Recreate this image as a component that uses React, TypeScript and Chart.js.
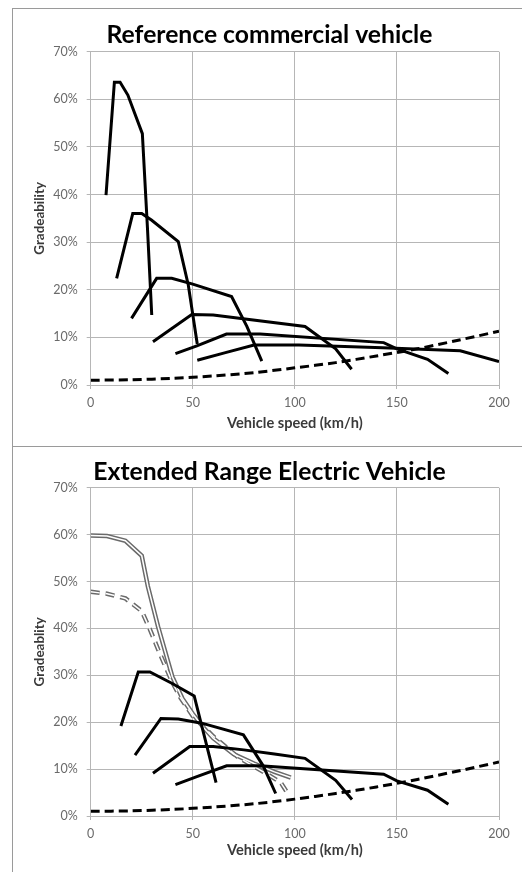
import React, { useEffect, useRef } from "react";
import { Chart, registerables } from "chart.js";

Chart.register(...registerables);

const FONT = "Lato, 'Open Sans', sans-serif";

// ---------- Axis ticks ----------
const xTickValues = [0, 50, 100, 150, 200];
const yTickValues = [0, 10, 20, 30, 40, 50, 60, 70];

// ---------- Road load (both charts) ----------
const roadSpeed = [0, 20, 40, 60, 80, 100, 120, 140, 160, 180, 200];
const refRoadGrade = [1.0, 1.1, 1.4, 1.9, 2.6, 3.6, 4.7, 6.1, 7.6, 9.4, 11.3];
const erevRoadGrade = [1.0, 1.1, 1.4, 1.9, 2.6, 3.6, 4.8, 6.2, 7.8, 9.6, 11.5];

// ---------- Reference commercial vehicle: gears ----------
const refG1Speed = [7.5, 11.6, 14.4, 18.2, 25.3, 27.8, 29.9];
const refG1Grade = [39.9, 63.6, 63.6, 60.9, 52.8, 33.0, 14.7];
const refG2Speed = [12.7, 20.6, 25.0, 29.9, 42.9, 47.8, 52.2];
const refG2Grade = [22.4, 36.0, 36.0, 34.6, 30.1, 21.0, 8.6];
const refG3Speed = [20.0, 32.3, 39.7, 50.0, 69.0, 76.5, 83.8];
const refG3Grade = [14.0, 22.4, 22.4, 21.2, 18.6, 12.3, 5.0];
const refG4Speed = [30.5, 49.5, 60.0, 105.0, 120.0, 127.8];
const refG4Grade = [9.1, 14.8, 14.7, 12.3, 7.6, 3.3];
const refG5Speed = [41.5, 52.0, 66.5, 83.0, 143.5, 150.0, 165.0, 175.2];
const refG5Grade = [6.6, 8.2, 10.7, 10.7, 8.9, 7.6, 5.4, 2.4];
const refG6Speed = [52.2, 66.0, 80.0, 102.0, 143.0, 181.0, 200.0];
const refG6Grade = [5.2, 6.8, 8.4, 8.4, 7.8, 7.2, 4.9];

// ---------- Extended Range Electric Vehicle ----------
const evMaxSpeed = [0, 8, 17, 25, 28, 33, 40, 45, 50, 55, 60, 70, 80, 90, 98];
const evMaxGrade = [59.8, 59.7, 58.7, 55.5, 49.0, 40.4, 29.7, 25.0, 21.8, 19.0, 16.6, 13.2, 11.2, 9.4, 8.2];
const evContSpeed = [0, 8, 17, 25, 29, 34, 40, 44, 50, 60, 72, 85, 93, 97];
const evContGrade = [47.8, 47.4, 46.4, 43.7, 39.8, 34.5, 28.5, 25.2, 21.3, 17.0, 12.6, 9.3, 7.2, 4.5];
const erevG1Speed = [14.8, 23.3, 29.0, 39.7, 50.7, 61.4];
const erevG1Grade = [19.2, 30.7, 30.7, 28.3, 25.6, 7.1];
const erevG2Speed = [21.7, 34.4, 42.9, 54.4, 74.8, 84.5, 90.6];
const erevG2Grade = [13.0, 20.8, 20.7, 19.8, 17.3, 10.7, 4.8];
const erevG3Speed = [30.5, 48.5, 60.0, 75.0, 90.0, 105.0, 120.0, 128.0];
const erevG3Grade = [9.1, 14.8, 14.8, 14.1, 13.2, 12.3, 7.6, 3.5];
const erevG4Speed = [41.5, 52.0, 66.6, 83.0, 143.5, 150.0, 165.0, 175.2];
const erevG4Grade = [6.7, 8.4, 10.7, 10.7, 8.9, 7.5, 5.5, 2.5];

const pts = (xs: number[], ys: number[]) => xs.map((x, i) => ({ x, y: ys[i] }));

const solid = (xs: number[], ys: number[]) => ({
  data: pts(xs, ys),
  borderColor: "#000",
  borderWidth: 3,
  pointRadius: 0,
  fill: false,
  tension: 0,
  order: 0,
  borderCapStyle: "butt" as const,
  borderJoinStyle: "miter" as const,
});

const road = (xs: number[], ys: number[]) => ({
  data: pts(xs, ys),
  borderColor: "#000",
  borderWidth: 3,
  borderDash: [9, 5],
  pointRadius: 0,
  fill: false,
  tension: 0.3,
  order: 0,
});

const compound = (xs: number[], ys: number[], dash: number[] | undefined) => [
  {
    data: pts(xs, ys),
    borderColor: "#ffffff",
    borderWidth: 1.5,
    borderDash: dash || [],
    pointRadius: 0,
    fill: false,
    tension: 0,
    order: 1,
  },
  {
    data: pts(xs, ys),
    borderColor: "#6a6a6a",
    borderWidth: 4.5,
    borderDash: dash || [],
    pointRadius: 0,
    fill: false,
    tension: 0,
    order: 2,
  },
];

type PanelProps = {
  title: string;
  yTitle: string;
  datasets: any[];
  height: number;
  titleTop: number;
  titleBottom: number;
  xAxisHeight: number;
  xTitleBottom: number;
};

const PAD_LEFT = 27;
const PAD_RIGHT = 23;
const Y_TITLE_SIZE = 13.4;

function Panel(p: PanelProps) {
  const ref = useRef<HTMLCanvasElement | null>(null);
  useEffect(() => {
    if (!ref.current) return;
    const grid = "#b6b6b6";
    const chart = new Chart(ref.current, {
      type: "line",
      data: { datasets: p.datasets },
      options: {
        responsive: false,
        animation: false,
        events: [],
        layout: { padding: { left: PAD_LEFT, right: PAD_RIGHT, top: 0, bottom: 0 } },
        plugins: {
          legend: { display: false },
          tooltip: { enabled: false },
          title: {
            display: true,
            text: p.title,
            color: "#000",
            font: { family: FONT, size: 24.7, weight: "bold", lineHeight: 1.2 },
            padding: { top: p.titleTop, bottom: p.titleBottom },
          },
        },
        scales: {
          x: {
            type: "linear",
            min: 0,
            max: 200,
            afterBuildTicks: (s: any) => {
              s.ticks = xTickValues.map((v) => ({ value: v }));
            },
            afterFit: (s: any) => {
              s.height = p.xAxisHeight;
            },
            ticks: {
              color: "#6a6a6a",
              font: { family: FONT, size: 12.5 },
              padding: 6,
              maxRotation: 0,
            },
            grid: { color: grid, lineWidth: 1, tickLength: 4 },
            border: { color: grid },
            title: {
              display: true,
              text: "Vehicle speed (km/h)",
              color: "#3a3a3a",
              font: { family: FONT, size: 14.6, weight: "bold", lineHeight: 1.2 },
              padding: { top: 0, bottom: p.xTitleBottom },
            },
          },
          y: {
            type: "linear",
            min: 0,
            max: 70,
            afterBuildTicks: (s: any) => {
              s.ticks = yTickValues.map((v) => ({ value: v }));
            },
            afterFit: (s: any) => {
              s.width = 77.7 - PAD_LEFT;
            },
            ticks: {
              color: "#6a6a6a",
              font: { family: FONT, size: 12.5 },
              padding: 9,
              callback: (v: any) => v + "%",
            },
            grid: { color: grid, lineWidth: 1, tickLength: 4 },
            border: { color: grid },
            title: {
              display: true,
              text: p.yTitle,
              color: "#3a3a3a",
              font: { family: FONT, size: Y_TITLE_SIZE, weight: "bold", lineHeight: 1.2 },
              padding: { top: 27 - PAD_LEFT - (Y_TITLE_SIZE * 1.2) / 2, bottom: 0 },
            },
          },
        },
      },
    } as any);
    return () => chart.destroy();
  }, []);
  return <canvas ref={ref} width={509} height={p.height} style={{ display: "block" }} />;
}

export default function App() {
  const refDatasets = [
    solid(refG1Speed, refG1Grade),
    solid(refG2Speed, refG2Grade),
    solid(refG3Speed, refG3Grade),
    solid(refG4Speed, refG4Grade),
    solid(refG5Speed, refG5Grade),
    solid(refG6Speed, refG6Grade),
    road(roadSpeed, refRoadGrade),
  ];
  const erevDatasets = [
    solid(erevG1Speed, erevG1Grade),
    solid(erevG2Speed, erevG2Grade),
    solid(erevG3Speed, erevG3Grade),
    solid(erevG4Speed, erevG4Grade),
    road(roadSpeed, erevRoadGrade),
    ...compound(evMaxSpeed, evMaxGrade, undefined),
    ...compound(evContSpeed, evContGrade, [9, 6]),
  ];
  return (
    <div
      style={{
        position: "absolute",
        left: 0,
        top: 0,
        width: 522,
        height: 872,
        background: "#fff",
        overflow: "hidden",
      }}
    >
      <div
        style={{
          position: "absolute",
          left: 12,
          top: 8,
          width: 510,
          height: 864,
          borderTop: "1px solid #9a9a9a",
          borderLeft: "1px solid #9a9a9a",
          boxSizing: "border-box",
        }}
      >
        <div style={{ height: 437, borderBottom: "1px solid #9a9a9a" }}>
          <Panel
            title="Reference commercial vehicle"
            yTitle="Gradeability"
            datasets={refDatasets}
            height={437}
            titleTop={11.2}
            titleBottom={1.9}
            xAxisHeight={61}
            xTitleBottom={14}
          />
        </div>
        <div>
          <Panel
            title="Extended Range Electric Vehicle"
            yTitle="Gradeablity"
            datasets={erevDatasets}
            height={425}
            titleTop={10.2}
            titleBottom={0.9}
            xAxisHeight={56}
            xTitleBottom={13}
          />
        </div>
      </div>
    </div>
  );
}
